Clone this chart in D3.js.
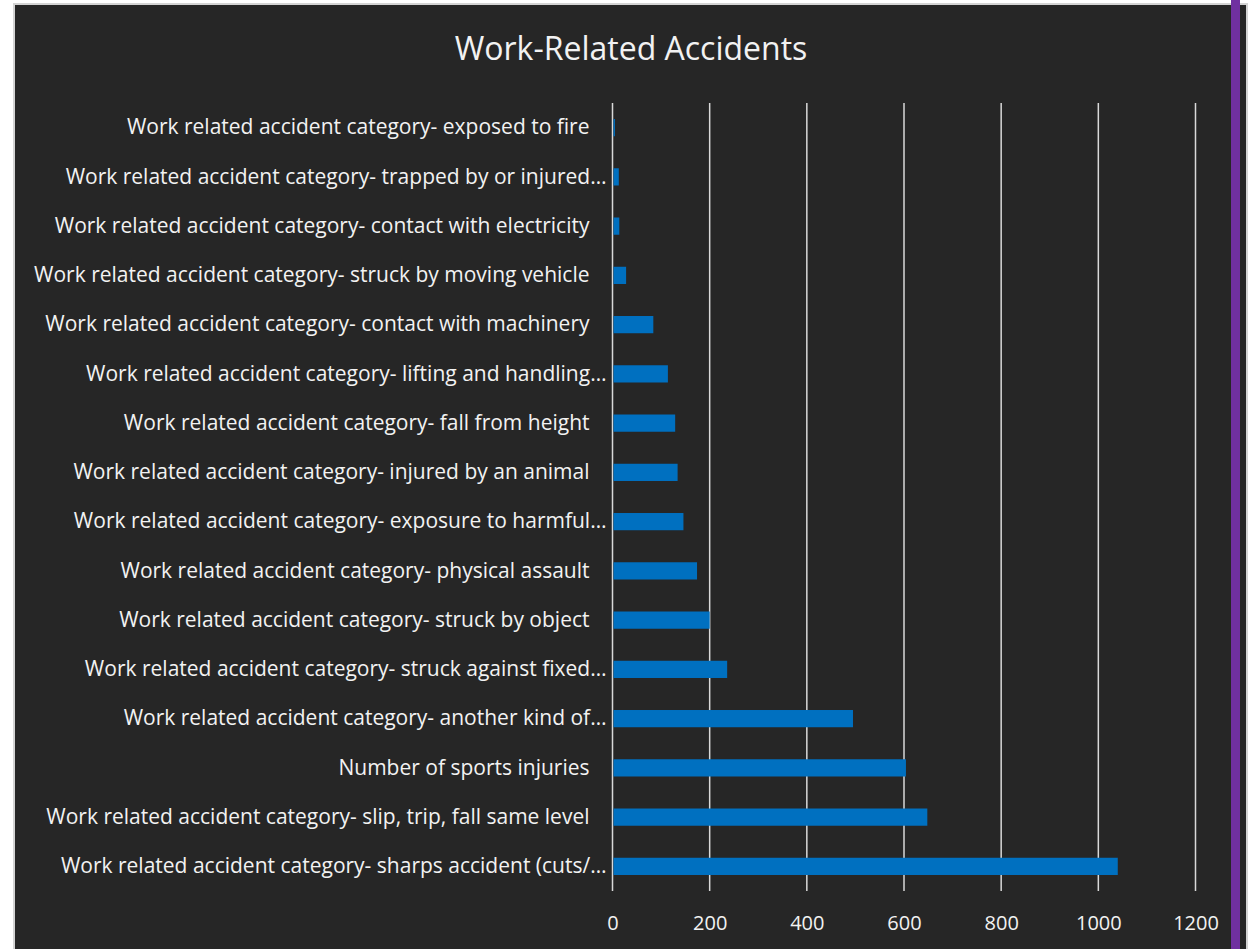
<!DOCTYPE html>
<html>
<head>
<meta charset="utf-8">
<script src="https://cdn.jsdelivr.net/npm/d3@7"></script>
<style>
  html, body { margin: 0; padding: 0; background: #ffffff; }
  svg { display: block; }
  text { font-family: "Open Sans", "DejaVu Sans", sans-serif; }
</style>
</head>
<body>
<svg id="chart" width="1248" height="949"></svg>
<script>
// Category labels, top row first (as shown on the vertical axis)
const categories = [
  "Work related accident category- exposed to fire",
  "Work related accident category- trapped by or injured…",
  "Work related accident category- contact with electricity",
  "Work related accident category- struck by moving vehicle",
  "Work related accident category- contact with machinery",
  "Work related accident category- lifting and handling…",
  "Work related accident category- fall from height",
  "Work related accident category- injured by an animal",
  "Work related accident category- exposure to harmful…",
  "Work related accident category- physical assault",
  "Work related accident category- struck by object",
  "Work related accident category- struck against fixed…",
  "Work related accident category- another kind of…",
  "Number of sports injuries",
  "Work related accident category- slip, trip, fall same level",
  "Work related accident category- sharps accident (cuts/…"
];

// Number of accidents for each category
const values = [5, 13, 14, 28, 84, 114, 129, 134, 146, 174, 200, 236, 495, 604, 648, 1040];

// Horizontal axis ticks
const tickValues = [0, 200, 400, 600, 800, 1000, 1200];

const title = "Work-Related Accidents";

const data = categories.map((c, i) => ({ category: c, value: values[i] }));

const svg = d3.select("#chart");
const W = 1248, H = 949;

// Panel background and frame
svg.append("rect").attr("x", 0).attr("y", 0).attr("width", W).attr("height", H).attr("fill", "#ffffff");
svg.append("rect").attr("x", 13).attr("y", 3).attr("width", W - 13).attr("height", H - 3).attr("fill", "#d4d4d4");
svg.append("rect").attr("x", 15).attr("y", 5).attr("width", W - 17).attr("height", H - 5).attr("fill", "#262626");
// Purple side strip
svg.append("rect").attr("x", 1231).attr("y", 0).attr("width", 9).attr("height", H).attr("fill", "#7030a0");

const plot = { left: 612.5, right: 1195.5, top: 103, bottom: 891 };

const x = d3.scaleLinear().domain([0, 1200]).range([plot.left, plot.right]);
const y = d3.scaleBand()
  .domain(categories)
  .range([plot.top, plot.bottom])
  .paddingInner(0.65)
  .paddingOuter(0.325);

// Vertical gridlines
svg.append("g")
  .selectAll("line")
  .data(tickValues)
  .join("line")
  .attr("x1", d => x(d)).attr("x2", d => x(d))
  .attr("y1", plot.top).attr("y2", plot.bottom)
  .attr("stroke", "#d9d9d9")
  .attr("stroke-width", 1.5);

// Bars
svg.append("g")
  .selectAll("rect")
  .data(data)
  .join("rect")
  .attr("x", x(0) + 1)
  .attr("y", d => y(d.category))
  .attr("width", d => Math.max(0, x(d.value) - x(0) - 1))
  .attr("height", y.bandwidth())
  .attr("fill", "#0070c0");

// Bottom axis tick labels
const xAxis = d3.axisBottom(x).tickValues(tickValues).tickSize(0).tickPadding(0).tickFormat(d3.format("d"));
const gx = svg.append("g").attr("transform", `translate(0, ${plot.bottom + 25})`).call(xAxis);
gx.select(".domain").remove();
gx.selectAll("text")
  .attr("fill", "#f2f2f2")
  .attr("font-size", "20px")
  .attr("font-family", "\"Open Sans\", sans-serif");

// Category labels on the left
const yAxis = d3.axisLeft(y).tickSize(0).tickPadding(0);
const gy = svg.append("g").attr("transform", `translate(${plot.left - 6}, 0)`).call(yAxis);
gy.select(".domain").remove();
gy.selectAll("text")
  .attr("fill", "#f2f2f2")
  .attr("font-size", "21px")
  .attr("font-family", "\"Open Sans\", sans-serif")
  .attr("dx", d => d.endsWith("…") ? 0 : -17);

// Title
svg.append("text")
  .attr("x", 631)
  .attr("y", 60)
  .attr("text-anchor", "middle")
  .attr("fill", "#f2f2f2")
  .attr("font-size", "32px")
  .text(title);
</script>
</body>
</html>
